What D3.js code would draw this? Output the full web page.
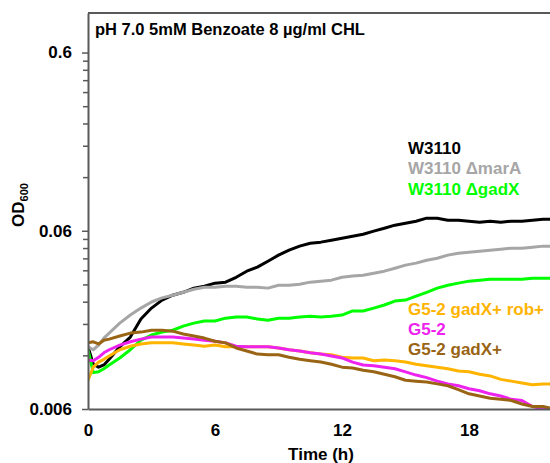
<!DOCTYPE html>
<html>
<head>
<meta charset="utf-8">
<script src="https://d3js.org/d3.v7.min.js"></script>
<title>OD600 pH 7.0 Benzoate CHL</title>
<style>
html, body {
  margin: 0;
  padding: 0;
  background: #fff;
}
svg {
  display: block;
  font-family: "Liberation Sans", Arial, sans-serif;
  font-weight: bold;
}
</style>
</head>
<body>
<script>
// time points (h)
var hours = [0, 0.25, 0.5, 0.75, 1, 1.5, 2, 2.5, 3, 3.5, 4, 4.5, 5, 5.5, 6, 6.5, 7, 7.5, 8, 8.5, 9, 9.5,
  10, 10.5, 11, 11.5, 12, 12.5, 13, 13.5, 14, 14.5, 15, 15.5, 16, 16.5, 17, 17.5, 18, 18.5, 19, 19.5,
  20, 20.5, 21, 21.5, 22];

// OD600 per strain
var w3110 = [0.0134, 0.0107, 0.0103, 0.0106, 0.0114, 0.0134, 0.0152, 0.0192, 0.0221, 0.0245, 0.0261, 0.0271,
  0.0286, 0.0293, 0.0305, 0.0309, 0.0329, 0.0356, 0.0375, 0.0405, 0.0438, 0.0467, 0.0492, 0.0511, 0.0518,
  0.0531, 0.0545, 0.0559, 0.0574, 0.0597, 0.0620, 0.0645, 0.0662, 0.0679, 0.0706, 0.0706, 0.0688, 0.0688,
  0.0679, 0.0670, 0.0679, 0.0670, 0.0679, 0.0679, 0.0688, 0.0697, 0.0697];
var marA = [0.0134, 0.0129, 0.0137, 0.0150, 0.0160, 0.0182, 0.0202, 0.0221, 0.0239, 0.0252, 0.0261, 0.0271,
  0.0282, 0.0289, 0.0289, 0.0293, 0.0293, 0.0289, 0.0289, 0.0286, 0.0297, 0.0297, 0.0301, 0.0309, 0.0313,
  0.0317, 0.0329, 0.0334, 0.0338, 0.0347, 0.0356, 0.0370, 0.0385, 0.0395, 0.0410, 0.0421, 0.0438, 0.0449,
  0.0455, 0.0461, 0.0467, 0.0473, 0.0479, 0.0479, 0.0485, 0.0492, 0.0492];
var gadX = [0.0129, 0.0096, 0.0097, 0.0101, 0.0106, 0.0116, 0.0129, 0.0146, 0.0156, 0.0162, 0.0166, 0.0175,
  0.0182, 0.0187, 0.0187, 0.0194, 0.0197, 0.0197, 0.0192, 0.0189, 0.0194, 0.0194, 0.0197, 0.0199, 0.0197,
  0.0199, 0.0202, 0.0213, 0.0213, 0.0221, 0.0230, 0.0242, 0.0245, 0.0258, 0.0271, 0.0286, 0.0297, 0.0305,
  0.0313, 0.0317, 0.0321, 0.0321, 0.0321, 0.0321, 0.0325, 0.0325, 0.0325];
var g52GadXRob = [0.0087, 0.0103, 0.0110, 0.0114, 0.0119, 0.0129, 0.0135, 0.0139, 0.0141, 0.0141, 0.0141, 0.0139,
  0.0137, 0.0135, 0.0137, 0.0134, 0.0134, 0.0134, 0.0134, 0.0134, 0.0132, 0.0129, 0.0127, 0.0124, 0.0122,
  0.0121, 0.0117, 0.0116, 0.0116, 0.0112, 0.0113, 0.0112, 0.0110, 0.0107, 0.0105, 0.0103, 0.0101, 0.0098,
  0.0097, 0.0094, 0.0092, 0.0088, 0.0086, 0.0084, 0.0082, 0.0083, 0.0083];
var g52 = [0.0113, 0.0112, 0.0117, 0.0124, 0.0129, 0.0137, 0.0143, 0.0148, 0.0152, 0.0152, 0.0152, 0.0150,
  0.0148, 0.0146, 0.0144, 0.0141, 0.0135, 0.0134, 0.0134, 0.0134, 0.0132, 0.0129, 0.0127, 0.0124, 0.0122,
  0.0119, 0.0116, 0.0110, 0.0106, 0.0105, 0.0103, 0.0101, 0.0097, 0.0093, 0.0090, 0.0086, 0.0083, 0.0081,
  0.0078, 0.0076, 0.0073, 0.0071, 0.0068, 0.0067, 0.0062, 0.0060, 0.0059];
var g52GadX = [0.0141, 0.0143, 0.0139, 0.0146, 0.0148, 0.0154, 0.0160, 0.0162, 0.0166, 0.0166, 0.0164, 0.0158,
  0.0154, 0.0150, 0.0144, 0.0141, 0.0132, 0.0127, 0.0122, 0.0121, 0.0121, 0.0117, 0.0114, 0.0112, 0.0110,
  0.0107, 0.0103, 0.0102, 0.0099, 0.0097, 0.0094, 0.0091, 0.0087, 0.0086, 0.0085, 0.0083, 0.0081, 0.0077,
  0.0073, 0.0071, 0.0069, 0.0068, 0.0067, 0.0064, 0.0062, 0.0062, 0.0060];

var seriesNames = ["W3110", "W3110 \u0394marA", "W3110 \u0394gadX", "G5-2 gadX+ rob+", "G5-2", "G5-2 gadX+"];
var seriesColors = ["#000000", "#a6a6a6", "#00ff00", "#ffb400", "#ee22ee", "#996515"];
var seriesValues = [w3110, marA, gadX, g52GadXRob, g52, g52GadX];

var xTicks = [0, 6, 12, 18];
var yMajorTicks = [0.006, 0.06, 0.6];
var yMinorTicks = [0.012, 0.018, 0.024, 0.03, 0.036, 0.042, 0.048, 0.054,
  0.12, 0.18, 0.24, 0.3, 0.36, 0.42, 0.48, 0.54];

var chartTitle = "pH 7.0 5mM Benzoate 8 \u00b5g/ml CHL";

// size of the picture and the plot box (the box runs past the right edge, x max 24 h)
var width = 550, height = 463;
var plot = {left: 88, right: 596, top: 13, bottom: 409};
var axisColor = "#595959";

var x = d3.scaleLinear().domain([0, 24]).range([plot.left, plot.right]);
var y = d3.scaleLog().domain([0.006, 1]).range([plot.bottom, plot.top]);

var svg = d3.select("body").append("svg")
  .attr("width", width)
  .attr("height", height);

svg.append("clipPath").attr("id", "plotClip")
  .append("rect")
  .attr("x", plot.left).attr("y", plot.top)
  .attr("width", plot.right - plot.left).attr("height", plot.bottom - plot.top);

// lines
var line = d3.line()
  .x(function(d) { return x(d[0]); })
  .y(function(d) { return y(d[1]); });

svg.append("g").attr("clip-path", "url(#plotClip)")
  .selectAll("path")
  .data(seriesValues)
  .enter().append("path")
  .attr("d", function(vals) { return line(hours.map(function(t, i) { return [t, vals[i]]; })); })
  .attr("fill", "none")
  .attr("stroke", function(d, i) { return seriesColors[i]; })
  .attr("stroke-width", 3)
  .attr("stroke-linejoin", "round");

// top frame
svg.append("line")
  .attr("x1", plot.left).attr("x2", plot.right)
  .attr("y1", plot.top).attr("y2", plot.top)
  .attr("stroke", axisColor).attr("stroke-width", 2);

// y axis, minor ticks first then major with labels
var yMinor = svg.append("g")
  .attr("transform", "translate(" + plot.left + ",0)")
  .call(d3.axisLeft(y).tickValues(yMinorTicks).tickFormat(function() { return ""; })
    .tickSize(5).tickSizeOuter(0));
yMinor.select(".domain").remove();
yMinor.selectAll(".tick line").attr("stroke", axisColor).attr("stroke-width", 1.5);

var yAxis = svg.append("g")
  .attr("transform", "translate(" + plot.left + ",0)")
  .call(d3.axisLeft(y).tickValues(yMajorTicks).tickFormat(function(d) { return String(d); })
    .tickSize(6).tickSizeOuter(0).tickPadding(10));
yAxis.select(".domain").attr("stroke", axisColor).attr("stroke-width", 2);
yAxis.selectAll(".tick line").attr("stroke", axisColor).attr("stroke-width", 1.5);
yAxis.selectAll("text")
  .attr("fill", "#000")
  .style("font-size", "17px")
  .style("font-family", "'Liberation Sans', Arial, sans-serif")
  .style("font-weight", "bold");

// x axis, no tick marks
var xAxis = svg.append("g")
  .attr("transform", "translate(0," + plot.bottom + ")")
  .call(d3.axisBottom(x).tickValues(xTicks).tickSize(0).tickSizeOuter(0).tickPadding(15));
xAxis.select(".domain").attr("stroke", axisColor).attr("stroke-width", 2);
xAxis.selectAll("text")
  .attr("fill", "#000")
  .style("font-size", "17px")
  .style("font-family", "'Liberation Sans', Arial, sans-serif")
  .style("font-weight", "bold");

// axis titles
svg.append("text")
  .attr("x", 321).attr("y", 460)
  .attr("text-anchor", "middle")
  .style("font-size", "17px")
  .text("Time (h)");

var yTitle = svg.append("text")
  .attr("transform", "translate(24,205) rotate(-90)")
  .attr("text-anchor", "middle")
  .style("font-size", "17px");
yTitle.append("tspan").text("OD");
yTitle.append("tspan").attr("dy", 4).style("font-size", "11px").text("600");

// chart title inside the box
svg.append("text")
  .attr("x", 95).attr("y", 35)
  .style("font-size", "16.5px")
  .text(chartTitle);

// labels next to the curves
var labelY = [154, 174, 195, 315, 335, 355];
svg.selectAll(".serieslabel")
  .data(seriesNames)
  .enter().append("text")
  .attr("class", "serieslabel")
  .attr("x", 408)
  .attr("y", function(d, i) { return labelY[i]; })
  .attr("fill", function(d, i) { return seriesColors[i]; })
  .style("font-size", "17px")
  .text(function(d) { return d; });
</script>
</body>
</html>
